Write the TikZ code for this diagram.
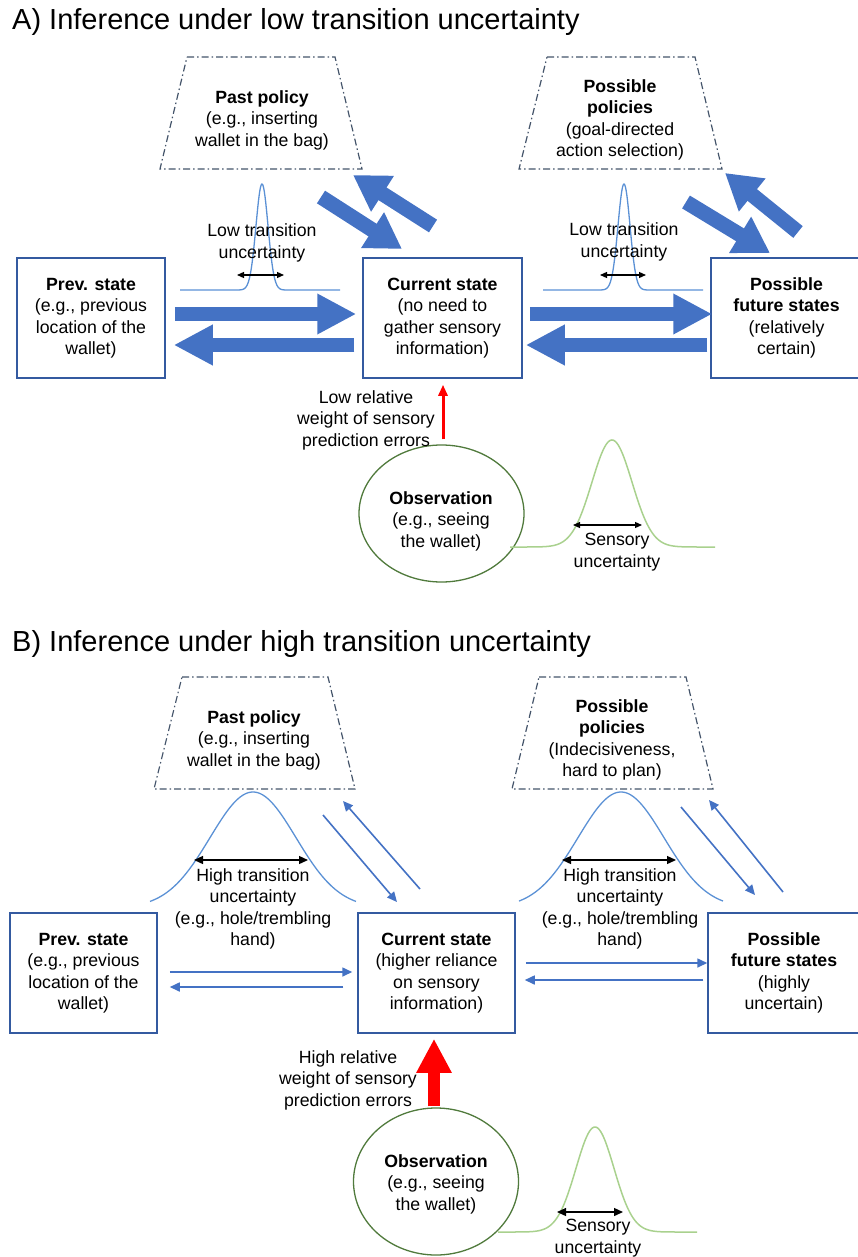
\documentclass[tikz,border=0pt]{standalone}
\usepackage{fontspec}
\setmainfont{Liberation Sans}
\usetikzlibrary{arrows.meta,shapes.geometric}
\definecolor{boxblue}{RGB}{52,90,160}
\definecolor{arrowblue}{RGB}{68,114,196}
\definecolor{policygray}{RGB}{68,84,106}
\definecolor{curveblue}{RGB}{91,145,213}
\definecolor{curvegreen}{RGB}{169,209,142}
\definecolor{obsgreen}{RGB}{80,122,60}
\definecolor{errred}{RGB}{255,0,0}
\begin{document}
\begin{tikzpicture}[x=1pt,y=-1pt,
  body/.style={font=\fontsize{17.7}{21.5}\selectfont, align=center, inner sep=0pt, text=black},
  title/.style={font=\fontsize{29}{34}\selectfont, inner sep=0pt, anchor=base west},
  statebox/.style={body, draw=boxblue, line width=1.5pt, minimum height=120pt},
  policy/.style={draw=policygray, line width=1.2pt, dash pattern=on 7pt off 3pt on 1.5pt off 3pt},
  obs/.style={ellipse, draw=obsgreen, line width=1.3pt, inner sep=0pt, minimum width=165pt},
  bigarrow/.style={draw=arrowblue, line width=14pt, -{Triangle[length=39pt,width=38pt]}},
  diagarrow/.style={draw=arrowblue, line width=15pt, -{Triangle[length=35pt,width=40pt]}},
  thinarrow/.style={draw=arrowblue, line width=1.6pt, -{Triangle[length=10pt,width=9pt]}},
  spanA/.style={black, line width=1.2pt, {Triangle[length=7pt,width=6pt]}-{Triangle[length=7pt,width=6pt]}},
  spanB/.style={black, line width=1.3pt, {Triangle[length=9pt,width=8pt]}-{Triangle[length=9pt,width=8pt]}},
  transcurve/.style={draw=curveblue, line width=1.3pt},
  senscurve/.style={draw=curvegreen, line width=1.5pt}
]
\useasboundingbox (0,0) rectangle (858,1257);

% ================= Panel A =================
\node[title] (titleA) at (12,30) {A) Inference under low transition uncertainty};

% policy trapezoids
\draw[policy] (187,57) -- (335,57) -- (362,169) -- (160,169) -- cycle;
\node[body] (pastA) at (262,120) {\textbf{Past policy}\\(e.g., inserting\\wallet in the bag)};
\draw[policy] (547,57) -- (695,57) -- (722,169) -- (519,169) -- cycle;
\node[body] (polA) at (620,120) {\textbf{Possible}\\\textbf{policies}\\(goal-directed\\action selection)};

% state boxes
\node[statebox, minimum width=148pt] (prevA) at (91,318) {\textbf{Prev. state}\\(e.g., previous\\location of the\\wallet)};
\node[statebox, minimum width=159pt] (curA) at (442.5,318) {\textbf{Current state}\\(no need to\\gather sensory\\information)};
\node[statebox, minimum width=151pt] (futA) at (786.5,318) {\textbf{Possible}\\\textbf{future states}\\(relatively\\certain)};

% narrow transition densities
\draw[transcurve] plot[domain=-82:78, samples=240] ({262+\x},{290-106*exp(-(\x)*(\x)/72)});
\draw[transcurve] plot[domain=-81:79, samples=240] ({624+\x},{290-106*exp(-(\x)*(\x)/72)});
\coordinate (wA1l) at (237,275); \coordinate (wA1r) at (284,275);
\draw[spanA] (wA1l) -- (wA1r);
\coordinate (wA2l) at (600,275); \coordinate (wA2r) at (646,275);
\draw[spanA] (wA2l) -- (wA2r);
\node[body] (lowA1) at (262,243) {Low transition\\uncertainty};
\node[body] (lowA2) at (624,242) {Low transition\\uncertainty};

% horizontal transitions
\draw[bigarrow, shorten <=9pt, shorten >=6pt] ([yshift=4pt]prevA.east) -- ([yshift=4pt]curA.west);
\draw[bigarrow, shorten <=8pt, shorten >=8pt] ([yshift=-27pt]curA.west) -- ([yshift=-27pt]prevA.east);
\draw[bigarrow, shorten <=7pt, shorten >=-2pt] ([yshift=4pt]curA.east) -- ([yshift=4pt]futA.west);
\draw[bigarrow, shorten <=3pt, shorten >=3pt] ([yshift=-27pt]futA.west) -- ([yshift=-27pt]curA.east);

% policy <-> state
\coordinate (dA1s) at (321,197); \coordinate (dA1e) at (402,249);
\coordinate (uA1s) at (433,226); \coordinate (uA1e) at (353,175);
\coordinate (dA2s) at (686,202); \coordinate (dA2e) at (770,253);
\coordinate (uA2s) at (798,232); \coordinate (uA2e) at (725,173);
\draw[diagarrow] (dA1s) -- (dA1e);
\draw[diagarrow] (uA1s) -- (uA1e);
\draw[diagarrow] (dA2s) -- (dA2e);
\draw[diagarrow] (uA2s) -- (uA2e);

% observation
\node[obs, minimum height=137pt] (obsA) at (441.5,513.5) {};
\node[body] (obsAtext) at (441,521) {\textbf{Observation}\\(e.g., seeing\\the wallet)};
\draw[errred, line width=3pt, -{Triangle[length=11pt,width=9pt]}, shorten <=5pt, shorten >=6pt] ([xshift=1.5pt]obsA.north) -- ([xshift=0.5pt]curA.south);
\node[body] (errA) at (366,420) {Low relative\\weight of sensory\\prediction errors};

% sensory density
\draw[senscurve] plot[domain=-102:103, samples=160] ({612+\x},{547-107*exp(-(\x)*(\x)/800)});
\coordinate (sA1) at (573,525); \coordinate (sA2) at (642,525);
\draw[spanA] (sA1) -- (sA2);
\node[body] (sensA) at (617,552) {Sensory\\uncertainty};

% ================= Panel B =================
\node[title] (titleB) at (12,651) {B) Inference under high transition uncertainty};

\draw[policy] (182,677) -- (328,677) -- (355,789) -- (154,789) -- cycle;
\node[body] (pastB) at (254,740) {\textbf{Past policy}\\(e.g., inserting\\wallet in the bag)};
\draw[policy] (539,677) -- (686,677) -- (713,789) -- (512,789) -- cycle;
\node[body] (polB) at (612,740) {\textbf{Possible}\\\textbf{policies}\\(Indecisiveness,\\hard to plan)};

\node[statebox, minimum width=147pt] (prevB) at (83.5,973) {\textbf{Prev. state}\\(e.g., previous\\location of the\\wallet)};
\node[statebox, minimum width=157pt] (curB) at (436.5,973) {\textbf{Current state}\\(higher reliance\\on sensory\\information)};
\node[statebox, minimum width=152pt] (futB) at (784,973) {\textbf{Possible}\\\textbf{future states}\\(highly\\uncertain)};

% wide transition densities
\draw[transcurve] plot[domain=-103:103, samples=120] ({253+\x},{908-116*exp(-(\x)*(\x)/3698)});
\draw[transcurve] plot[domain=-102:102, samples=120] ({621+\x},{908-116*exp(-(\x)*(\x)/3698)});
\coordinate (wB1l) at (194,860); \coordinate (wB1r) at (308,860);
\draw[spanB] (wB1l) -- (wB1r);
\coordinate (wB2l) at (562,860); \coordinate (wB2r) at (676,860);
\draw[spanB] (wB2l) -- (wB2r);
\node[body] (highB1) at (253,909) {High transition\\uncertainty\\(e.g., hole/trembling\\hand)};
\node[body] (highB2) at (620,909) {High transition\\uncertainty\\(e.g., hole/trembling\\hand)};

% horizontal transitions
\draw[thinarrow, shorten <=12pt, shorten >=5pt] ([yshift=1pt]prevB.east) -- ([yshift=1pt]curB.west);
\draw[thinarrow, shorten <=14pt, shorten >=12pt] ([yshift=-14pt]curB.west) -- ([yshift=-14pt]prevB.east);
\draw[thinarrow, shorten <=10pt, shorten >=0pt] ([yshift=10pt]curB.east) -- ([yshift=10pt]futB.west);
\draw[thinarrow, shorten <=4pt, shorten >=9pt] ([yshift=-7pt]futB.west) -- ([yshift=-7pt]curB.east);

% policy <-> state
\coordinate (dB1s) at (323,815); \coordinate (dB1e) at (397,902);
\coordinate (uB1s) at (420,889); \coordinate (uB1e) at (343,801);
\coordinate (dB2s) at (681,807); \coordinate (dB2e) at (755,895);
\coordinate (uB2s) at (783,892); \coordinate (uB2e) at (709,800);
\draw[thinarrow] (dB1s) -- (dB1e);
\draw[thinarrow] (uB1s) -- (uB1e);
\draw[thinarrow] (dB2s) -- (dB2e);
\draw[thinarrow] (uB2s) -- (uB2e);

% observation
\node[obs, minimum height=147pt] (obsB) at (436,1181.5) {};
\node[body] (obsBtext) at (436,1184) {\textbf{Observation}\\(e.g., seeing\\the wallet)};
\draw[errred, line width=12pt, -{Triangle[length=34pt,width=33pt]}, shorten <=1pt, shorten >=5pt] ([xshift=-2pt]obsB.north) -- ([xshift=-2.5pt]curB.south);
\node[body] (errB) at (348,1080) {High relative\\weight of sensory\\prediction errors};

% sensory density
\draw[senscurve] plot[domain=-97:102, samples=160] ({595+\x},{1232-105*exp(-(\x)*(\x)/722)});
\coordinate (sB1) at (557,1212); \coordinate (sB2) at (623,1212);
\draw[spanB] (sB1) -- (sB2);
\node[body] (sensB) at (598,1238) {Sensory\\uncertainty};
\end{tikzpicture}
\end{document}
